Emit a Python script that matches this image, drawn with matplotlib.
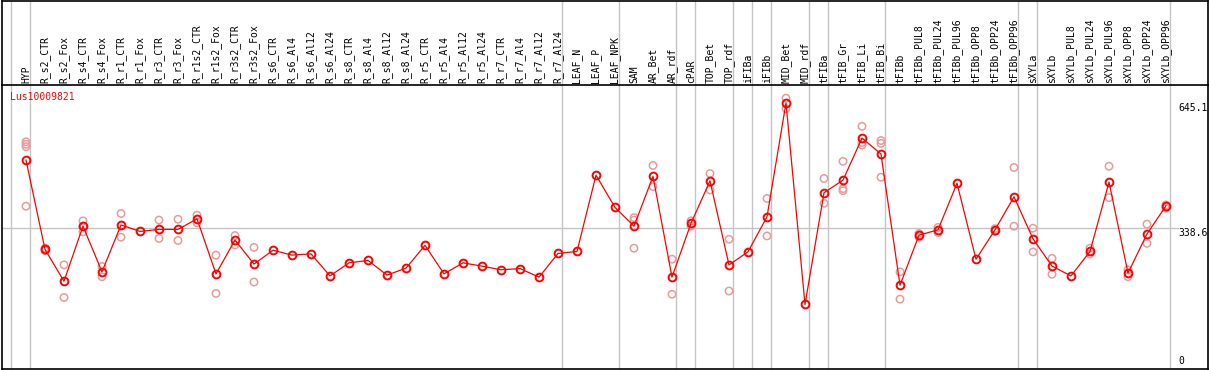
import numpy as np
import matplotlib
matplotlib.use("Agg")
import matplotlib.pyplot as plt
import matplotlib.transforms as mtransforms

plt.rcParams['font.family'] = ['DejaVu Sans Mono']

gene = "Lus10009821"

samples = ["HYP", "R_s2_CTR", "R_s2_Fox", "R_s4_CTR", "R_s4_Fox", "R_r1_CTR", "R_r1_Fox",
           "R_r3_CTR", "R_r3_Fox", "R_r1s2_CTR", "R_r1s2_Fox", "R_r3s2_CTR", "R_r3s2_Fox",
           "R_s6_CTR", "R_s6_Al4", "R_s6_Al12", "R_s6_Al24", "R_s8_CTR", "R_s8_Al4",
           "R_s8_Al12", "R_s8_Al24", "R_r5_CTR", "R_r5_Al4", "R_r5_Al12", "R_r5_Al24",
           "R_r7_CTR", "R_r7_Al4", "R_r7_Al12", "R_r7_Al24", "LEAF_N", "LEAF_P", "LEAF_NPK",
           "SAM", "AR_Bet", "AR_rdf", "cPAR", "TOP_Bet", "TOP_rdf", "iFIBa", "iFIBb",
           "MID_Bet", "MID_rdf", "tFIBa", "tFIB_Gr", "tFIB_Li", "tFIB_Bi", "tFIBb",
           "tFIBb_PUL8", "tFIBb_PUL24", "tFIBb_PUL96", "tFIBb_OPP8", "tFIBb_OPP24",
           "tFIBb_OPP96", "sXYLa", "sXYLb", "sXYLb_PUL8", "sXYLb_PUL24", "sXYLb_PUL96",
           "sXYLb_OPP8", "sXYLb_OPP24", "sXYLb_OPP96"]

means = [505, 286, 208, 343, 231, 346, 330, 335, 335, 361, 226, 309, 250,
         284, 272, 275, 221, 253, 259, 223, 240, 296, 226, 253, 245, 236, 239, 218, 276,
         281, 468, 389, 343, 465, 218, 350, 454, 248, 280, 366, 645.1, 151,
         425, 456, 559, 520, 198, 321, 334, 448, 262, 334, 415,
         312, 245, 221, 281, 451, 228, 324, 393]

replicates = [[550, 544, 538, 392], [289, 283], [248, 168], [356, 343, 329], [244, 219],
              [374, 316], [], [358, 313], [360, 308], [370, 351], [272, 178], [320, 297],
              [291, 206], [], [], [], [], [], [], [], [], [], [], [], [], [], [], [], [],
              [], [], [], [364, 358, 289], [492, 440], [262, 176], [356, 343], [472, 432],
              [311, 184], [], [411, 319], [657, 631], [], [460, 399], [502, 435, 430],
              [588, 548, 542], [553, 546, 463], [231, 164], [325, 316], [340, 327], [], [],
              [337, 330], [487, 343], [338, 280], [264, 225], [], [289, 275], [490, 413],
              [236, 219], [348, 301], [395, 387]]

group_ends = [-1, 0, 28, 31, 34, 35, 37, 38, 39, 41, 42, 45, 52, 53, 60]
ytick_vals = [645.1, 338.6, 0]
ytick_labels = ["645.1", "338.6", "0"]

W, H = 1209, 370
fig = plt.figure(figsize=(W / 100, H / 100), dpi=100)

# pixel geometry
left_px, right_px = 2, 1208
top_px, sep_px, bot_px = 1, 85, 369
x0_px, dx_px = 26, 19
y0_px, per_px = 366, 2.453

ax = fig.add_axes([left_px / W, (H - bot_px) / H, (right_px - left_px) / W, (bot_px - sep_px) / H])
axh = fig.add_axes([left_px / W, (H - sep_px) / H, (right_px - left_px) / W, (sep_px - top_px) / H], sharex=ax)

xlo = (left_px - x0_px) / dx_px
xhi = (right_px - x0_px) / dx_px
ax.set_xlim(xlo, xhi)
ax.set_ylim((y0_px - bot_px) * per_px, (y0_px - sep_px) * per_px)
axh.set_ylim(0, 1)

for a in (ax, axh):
    a.set_xticks([])
    a.set_yticks([])
    for s in a.spines.values():
        s.set_color('black')
        s.set_linewidth(1.2)
ax.spines['top'].set_visible(False)

grey = '#c4c4c4'
for b in group_ends:
    xb = b + 4 / 19
    ax.axvline(xb, color=grey, lw=1.0, zorder=1)
    axh.axvline(xb, color=grey, lw=1.0, zorder=1)

lab_x = (1178 - left_px) / (right_px - left_px)
ax.axhline(338.6, xmin=0, xmax=lab_x, color=grey, lw=1.0, zorder=1)

x = np.arange(len(samples))
# replicates
rx = [i for i, r in enumerate(replicates) for _ in r]
ry = [v for r in replicates for v in r]
ax.scatter(rx, ry, s=28, facecolors='none', edgecolors='#e99a9a', linewidths=1.1, zorder=2)
ax.plot(x, means, color='red', lw=0.9, marker='o', ms=5.6, mfc='none', mec='red', mew=1.4, zorder=3)

ax.text(8 / (right_px - left_px), (bot_px - 96.5) / (bot_px - sep_px), gene, color='red',
        fontsize=7, ha='left', va='center', transform=ax.transAxes)

blend = mtransforms.blended_transform_factory(ax.transAxes, ax.transData)
for v, t in zip(ytick_vals, ytick_labels):
    ax.text(lab_x, v, t, fontsize=7, ha='left', va='bottom' if v == 0 else 'top',
            transform=blend, color='black')

blend_h = mtransforms.blended_transform_factory(axh.transData, axh.transAxes)
for i, s in enumerate(samples):
    axh.text(i, 2 / (sep_px - top_px), s, rotation=90, fontsize=7, ha='center', va='bottom',
             transform=blend_h, color='black')

fig.savefig('out.png', dpi=100)
